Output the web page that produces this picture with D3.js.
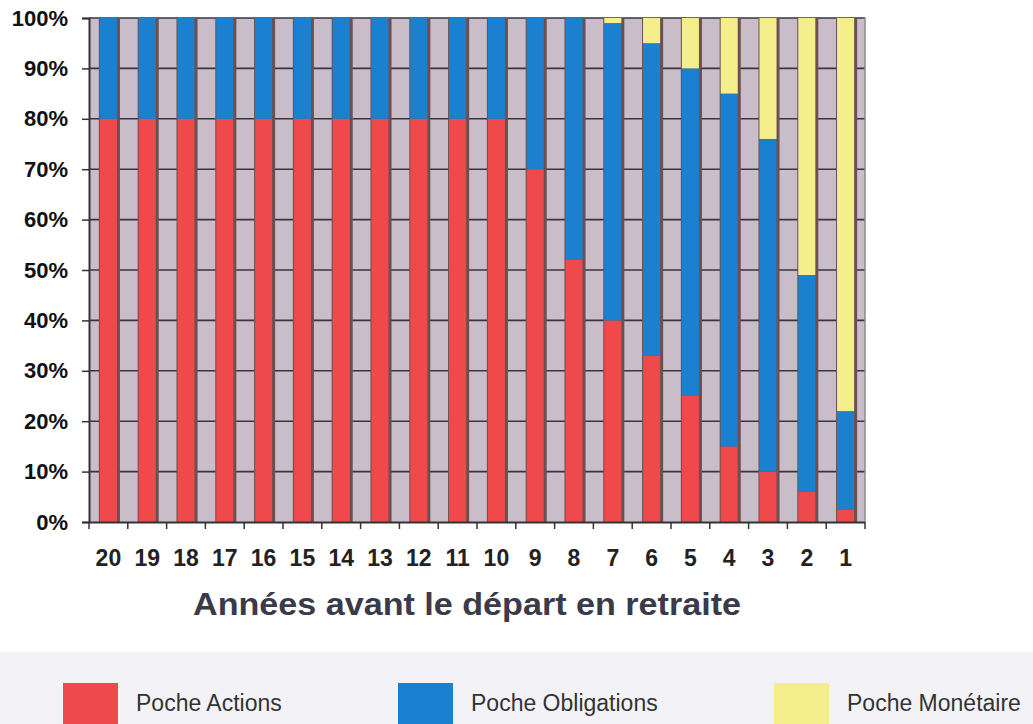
<!DOCTYPE html>
<html><head><meta charset="utf-8">
<script src="https://cdn.jsdelivr.net/npm/d3@7"></script>
<style>body{margin:0;background:#fff;}svg{display:block;}</style>
</head><body>
<svg id="c" width="1033" height="724"></svg>
<script>
const years = ["20","19","18","17","16","15","14","13","12","11","10","9","8","7","6","5","4","3","2","1"];
const actions =     [80,80,80,80,80,80,80,80,80,80,80,70,52,40,33,25,15,10, 6, 2.5];
const obligations = [20,20,20,20,20,20,20,20,20,20,20,30,48,59,62,65,70,66,43,19.5];
const monetaire =   [ 0, 0, 0, 0, 0, 0, 0, 0, 0, 0, 0, 0, 0, 1, 5,10,15,24,51,78];
const yTicks = [0,10,20,30,40,50,60,70,80,90,100];
const seriesNames = ["Poche Actions","Poche Obligations","Poche Monétaire"];
const colors = ["#ef494b","#1c80d0","#f4ee8c"];
const xTitle = "Années avant le départ en retraite";

const svg = d3.select("#c");
const L = 89, R = 865, T = 18, B = 522;
const x = d3.scaleBand().domain(years).range([L, R]).paddingInner(0.56).paddingOuter(0.28);
const xb = d3.scaleBand().domain(years).range([L, R]);
const y = d3.scaleLinear().domain([0,100]).range([B, T]);
const font = "Liberation Sans, Arial, sans-serif";

// plot background
svg.append("rect").attr("x",L).attr("y",T).attr("width",R-L).attr("height",B-T).attr("fill","#cabdca");
svg.append("g").selectAll("rect").data(years).join("rect")
  .attr("x", d => xb(d) + xb.bandwidth()*0.62).attr("y",T)
  .attr("width", 4).attr("height",B-T).attr("fill","#d6d0da").attr("opacity",0.8);

// grid
svg.append("g").selectAll("line").data(yTicks.filter(d=>d>0)).join("line")
  .attr("x1",L).attr("x2",R).attr("y1",d=>y(d)).attr("y2",d=>y(d))
  .attr("stroke","#3a3440").attr("stroke-width",1.6);

const data = years.map((yr,i)=>({yr, a:actions[i], o:obligations[i], m:monetaire[i]}));
const stack = d3.stack().keys(["a","o","m"])(data);

// bar shadows
svg.append("g").selectAll("rect").data(data).join("rect")
  .attr("x", d => x(d.yr) - 1).attr("y", y(100))
  .attr("width", x.bandwidth() + 4).attr("height", B - y(100))
  .attr("fill", "#6a5050");

stack.forEach((s,k)=>{
  svg.append("g").selectAll("rect").data(s).join("rect")
    .attr("x", d => x(d.data.yr)).attr("y", d => y(d[1]))
    .attr("width", x.bandwidth()).attr("height", d => Math.max(0, y(d[0]) - y(d[1])))
    .attr("fill", colors[k]);
});

// axes
const yAxis = d3.axisLeft(y).tickValues(yTicks).tickFormat(d=>d+"%").tickSize(7).tickPadding(14);
const gy = svg.append("g").attr("transform",`translate(${L},0)`).call(yAxis);
gy.select(".domain").attr("stroke","#333").attr("stroke-width",2);
gy.selectAll(".tick line").attr("stroke","#333").attr("stroke-width",1.5);
gy.selectAll("text").attr("font-family",font).attr("font-weight","bold")
  .attr("font-size",22).attr("fill","#111");

const xAxis = d3.axisBottom(x).tickSize(0).tickPadding(28);
const gx = svg.append("g").attr("transform",`translate(0,${B})`).call(xAxis);
gx.select(".domain").attr("stroke","#333").attr("stroke-width",2);
gx.selectAll("text").attr("font-family",font).attr("font-weight","bold")
  .attr("font-size",23).attr("fill","#222");
svg.append("g").selectAll("line").data(d3.range(years.length+1)).join("line")
  .attr("x1", i => L + i*xb.step()).attr("x2", i => L + i*xb.step())
  .attr("y1", B).attr("y2", B+7).attr("stroke","#333").attr("stroke-width",1.5);
svg.append("line").attr("x1",R).attr("x2",R).attr("y1",T).attr("y2",B).attr("stroke","#8a8890").attr("stroke-width",1.5);

svg.append("text").attr("x",193).attr("y",615)
  .attr("font-family",font).attr("font-weight","bold")
  .attr("font-size",31).attr("fill","#3a3a48")
  .attr("textLength",548).attr("lengthAdjust","spacingAndGlyphs").text(xTitle);

// legend
svg.append("rect").attr("x",0).attr("y",652).attr("width",1033).attr("height",72).attr("fill","#f3f3f7");
const legX = [63, 398, 774];
seriesNames.forEach((n,i)=>{
  svg.append("rect").attr("x",legX[i]).attr("y",683).attr("width",55).attr("height",41).attr("fill",colors[i]);
  svg.append("text").attr("x",legX[i]+73).attr("y",711)
    .attr("font-family",font).attr("font-size",23)
    .attr("fill","#333").text(n);
});
</script>
</body></html>
